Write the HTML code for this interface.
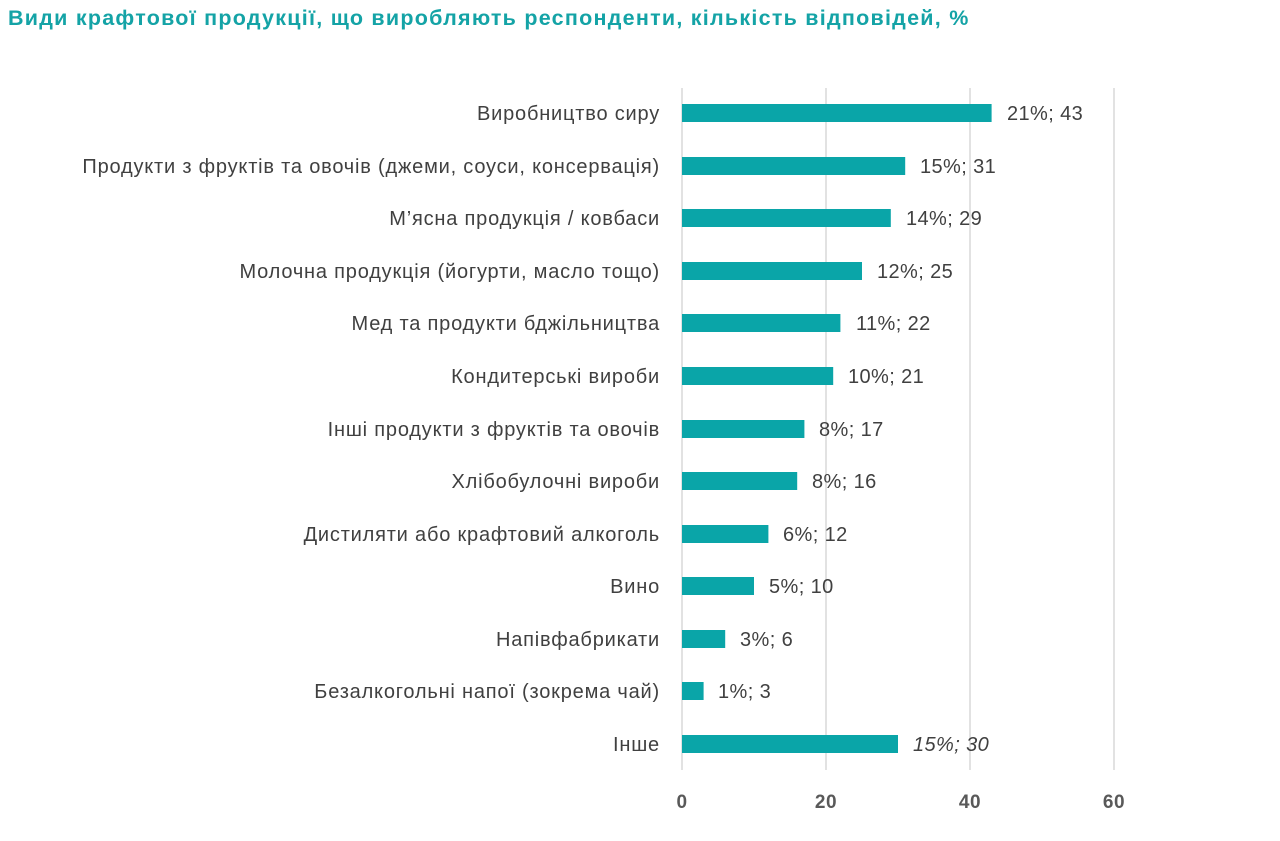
<!DOCTYPE html>
<html><head><meta charset="utf-8"><style>
body{margin:0;background:#fff;width:1280px;height:836px;overflow:hidden;font-family:"Liberation Sans","DejaVu Sans",sans-serif;}
</style></head><body>
<svg width="1280" height="836" xmlns="http://www.w3.org/2000/svg" font-family="Liberation Sans, DejaVu Sans, sans-serif">
<text x="8" y="25" font-size="21.5" font-weight="bold" fill="#14a3a6" letter-spacing="1.25">Види крафтової продукції, що виробляють респонденти, кількість відповідей, %</text>
<g stroke="#d9d9d9" stroke-width="1.5">
<line x1="682" y1="88" x2="682" y2="770"/>
<line x1="826" y1="88" x2="826" y2="770"/>
<line x1="970" y1="88" x2="970" y2="770"/>
<line x1="1114" y1="88" x2="1114" y2="770"/>
</g>
<g font-size="20" fill="#404040" letter-spacing="0.8">
<g text-anchor="end">
<text x="660" y="120">Виробництво сиру</text>
<text x="660" y="173">Продукти з фруктів та овочів (джеми, соуси, консервація)</text>
<text x="660" y="225">М’ясна продукція / ковбаси</text>
<text x="660" y="278">Молочна продукція (йогурти, масло тощо)</text>
<text x="660" y="330">Мед та продукти бджільництва</text>
<text x="660" y="383">Кондитерські вироби</text>
<text x="660" y="436">Інші продукти з фруктів та овочів</text>
<text x="660" y="488">Хлібобулочні вироби</text>
<text x="660" y="541">Дистиляти або крафтовий алкоголь</text>
<text x="660" y="593">Вино</text>
<text x="660" y="646">Напівфабрикати</text>
<text x="660" y="698">Безалкогольні напої (зокрема чай)</text>
<text x="660" y="751">Інше</text>
</g>
<g fill="#0aa5a8">
<rect x="682" y="104" width="309.6" height="18"/>
<rect x="682" y="157" width="223.2" height="18"/>
<rect x="682" y="209" width="208.8" height="18"/>
<rect x="682" y="262" width="180" height="18"/>
<rect x="682" y="314" width="158.4" height="18"/>
<rect x="682" y="367" width="151.2" height="18"/>
<rect x="682" y="420" width="122.4" height="18"/>
<rect x="682" y="472" width="115.2" height="18"/>
<rect x="682" y="525" width="86.4" height="18"/>
<rect x="682" y="577" width="72" height="18"/>
<rect x="682" y="630" width="43.2" height="18"/>
<rect x="682" y="682" width="21.6" height="18"/>
<rect x="682" y="735" width="216" height="18"/>
</g>
<g letter-spacing="0.4">
<text x="1007" y="120">21%; 43</text>
<text x="920" y="173">15%; 31</text>
<text x="906" y="225">14%; 29</text>
<text x="877" y="278">12%; 25</text>
<text x="856" y="330">11%; 22</text>
<text x="848" y="383">10%; 21</text>
<text x="819" y="436">8%; 17</text>
<text x="812" y="488">8%; 16</text>
<text x="783" y="541">6%; 12</text>
<text x="769" y="593">5%; 10</text>
<text x="740" y="646">3%; 6</text>
<text x="718" y="698">1%; 3</text>
<text x="913" y="751" font-style="italic">15%; 30</text>
</g>
</g>
<g font-size="19" font-weight="bold" fill="#595959" text-anchor="middle" letter-spacing="0.5">
<text x="682" y="808">0</text>
<text x="826" y="808">20</text>
<text x="970" y="808">40</text>
<text x="1114" y="808">60</text>
</g>
</svg>
</body></html>
